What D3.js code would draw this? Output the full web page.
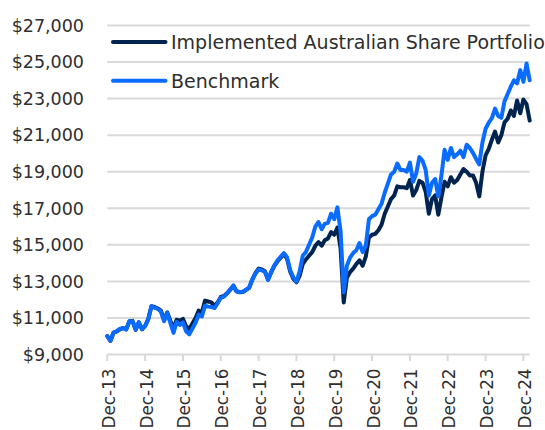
<!DOCTYPE html>
<html>
<head>
<meta charset="utf-8">
<script src="https://cdn.jsdelivr.net/npm/d3@7"></script>
<style>
  html, body { margin: 0; padding: 0; background: #fff; }
  svg { display: block; font-family: "DejaVu Sans", sans-serif; }
</style>
</head>
<body>
<div id="chart"></div>
<script>
// Growth of $10,000, monthly, Dec-13 .. Feb-25
const seriesNames = ["Implemented Australian Share Portfolio", "Benchmark"];

const portfolio = [
  10000,
  9750, 10200, 10270, 10380, 10450, 10380, 10820, 10840, 10350, 10760, 10380, 10560,
  10950, 11640, 11600, 11520, 11400, 10900, 11300, 10850, 10450, 10900, 10850, 10950,
  10550, 10400, 10700, 11000, 11400, 11300, 11950, 11900, 11850, 11650, 11850, 12150,
  12200, 12350, 12550, 12750, 12450, 12400, 12420, 12530, 12650, 13100, 13450, 13700,
  13650, 13550, 13100, 13500, 13850, 14100, 14300, 14480, 14250, 13550, 13150, 12950,
  13300, 13950, 14200, 14400, 14600, 14950, 15150, 14950, 15250, 15350, 15700, 15550,
  15950, 14800, 11850, 13200, 13500, 13700, 13950, 14150, 13850, 14350, 15400, 15550,
  15600, 15800, 16100, 16700, 17100, 17500, 17700, 18200, 18150, 18150, 18100, 18550,
  17700, 18000, 18500, 18400, 17900, 16700, 17500, 17700, 16650, 17600, 18450, 18200,
  18700, 18400, 18550, 18850, 19150, 19000, 18800, 18800, 18400, 17650, 19000, 19900,
  20250, 20750, 21200, 20600, 21000, 21700, 21900, 22350, 22050, 22900, 22200, 22950,
  22700, 21800
];

const benchmark = [
  10000,
  9750, 10200, 10270, 10400, 10450, 10360, 10820, 10820, 10360, 10760, 10380, 10560,
  10920, 11640, 11560, 11490, 11360, 10820, 11270, 10730, 10180, 10780, 10620, 10760,
  10270, 10100, 10420, 10740, 11180, 11080, 11670, 11620, 11600, 11540, 11800, 12100,
  12170, 12330, 12560, 12780, 12460, 12420, 12430, 12540, 12650, 13100, 13430, 13650,
  13600, 13530, 13080, 13520, 13880, 14150, 14350, 14550, 14320, 13620, 13220, 12980,
  13550, 14400, 14600, 15000, 15400, 16000, 16250, 15850, 16150, 16200, 16700, 16400,
  17050, 15750, 12400, 13850, 14300, 14550, 14700, 15100, 14600, 14950, 16400, 16570,
  16650, 16950, 17250, 17850, 18350, 18850, 19000, 19450, 19100, 19100, 19000, 19500,
  18450, 18900, 19800, 19600, 19100, 17700, 18400, 18600, 17650, 18800, 20200, 19650,
  20300, 19800, 19950, 20150, 19800, 20480, 20300, 20030, 19700, 19400, 20600, 21350,
  21680, 21930, 22450, 22050, 21950, 22850, 23250, 23650, 24000, 23830, 24560, 23920,
  24920, 24000
];

const yTicks = [9000, 11000, 13000, 15000, 17000, 19000, 21000, 23000, 25000, 27000];
const xTickLabels = ["Dec-13", "Dec-14", "Dec-15", "Dec-16", "Dec-17", "Dec-18",
                     "Dec-19", "Dec-20", "Dec-21", "Dec-22", "Dec-23", "Dec-24"];

const colors = ["#00234f", "#0a6bff"];

const width = 545, height = 430;
const plotLeft = 107.3, plotRight = 529.7, plotTop = 25.5, plotBottom = 354.5;

const months = d3.timeMonth.range(new Date(2013, 11, 1), new Date(2025, 2, 1));
const fmtMonth = d3.timeFormat("%b-%y");
const monthKeys = months.map(fmtMonth);

const x = d3.scalePoint().domain(monthKeys).range([plotLeft, plotRight]);
const y = d3.scaleLinear().domain([9000, 27000]).range([plotBottom, plotTop]);

const svg = d3.select("#chart").append("svg")
  .attr("width", width)
  .attr("height", height);

// gridlines
svg.append("g")
  .selectAll("line")
  .data(yTicks)
  .join("line")
  .attr("x1", plotLeft)
  .attr("x2", plotRight)
  .attr("y1", d => y(d))
  .attr("y2", d => y(d))
  .attr("stroke", "#d9d9d9")
  .attr("stroke-width", 2);

// y labels
svg.append("g")
  .selectAll("text")
  .data(yTicks)
  .join("text")
  .attr("x", 84)
  .attr("y", d => y(d))
  .attr("dy", "0.36em")
  .attr("text-anchor", "end")
  .attr("font-size", 17.5)
  .attr("fill", "#2e2e2e")
  .text(d => d3.format("$,")(d));

// x ticks + labels
const xt = svg.append("g")
  .selectAll("g")
  .data(xTickLabels)
  .join("g")
  .attr("transform", d => `translate(${x(d)},0)`);

xt.append("line")
  .attr("y1", plotBottom)
  .attr("y2", plotBottom + 6.5)
  .attr("stroke", "#d9d9d9")
  .attr("stroke-width", 2);

xt.append("text")
  .attr("transform", `translate(7.5,${plotBottom + 14}) rotate(-90)`)
  .attr("text-anchor", "end")
  .attr("font-size", 16.8)
  .attr("fill", "#2e2e2e")
  .text(d => d);

// lines
const line = d3.line()
  .x((d, i) => x(monthKeys[i]))
  .y(d => y(d));

[portfolio, benchmark].forEach((vals, k) => {
  svg.append("path")
    .datum(vals)
    .attr("d", line)
    .attr("fill", "none")
    .attr("stroke", colors[k])
    .attr("stroke-width", 4)
    .attr("stroke-linejoin", "round")
    .attr("stroke-linecap", "round");
});

// legend
const legend = svg.append("g")
  .selectAll("g")
  .data(seriesNames)
  .join("g")
  .attr("transform", (d, i) => `translate(0,${42 + i * 38.7})`);

legend.append("line")
  .attr("x1", 113)
  .attr("x2", 165.5)
  .attr("stroke", (d, i) => colors[i])
  .attr("stroke-width", 4)
  .attr("stroke-linecap", "round");

legend.append("text")
  .attr("x", 171)
  .attr("y", 7.3)
  .attr("font-size", 19)
  .attr("fill", "#2e2e2e")
  .text(d => d);
</script>
</body>
</html>
